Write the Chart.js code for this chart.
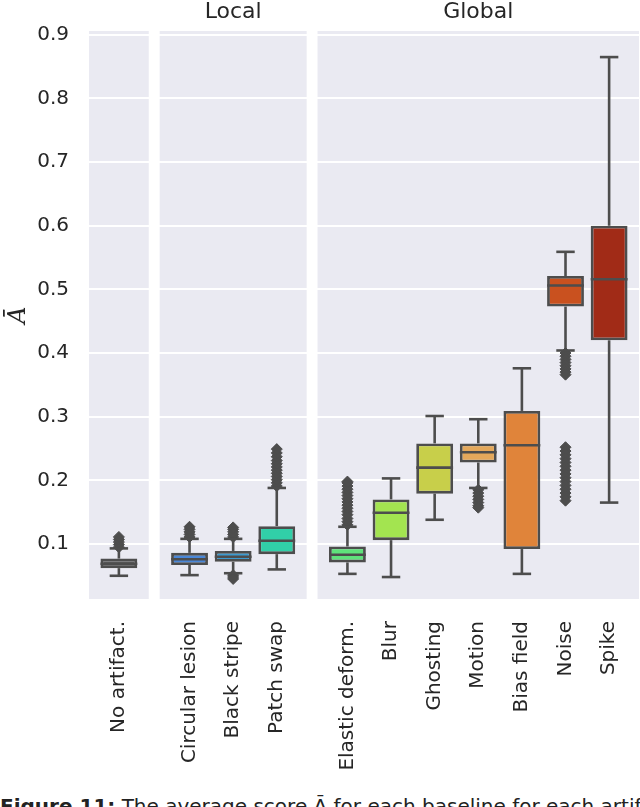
<!DOCTYPE html>
<html>
<head>
<meta charset="utf-8">
<script src="https://cdn.jsdelivr.net/npm/chart.js@4/dist/chart.umd.min.js"></script>
<style>
  html, body { margin: 0; padding: 0; background: #fff; overflow: hidden; }
  #wrap { position: relative; width: 640px; height: 807px; overflow: hidden; }
  #chart { position: absolute; left: 0; top: 0; }
  .caption {
    position: absolute; left: 0; top: 796px;
    font-family: "DejaVu Sans", sans-serif; font-size: 20px; line-height: 1;
    color: #222; white-space: nowrap;
  }
</style>
</head>
<body>
<div id="wrap">
  <canvas id="chart" width="640" height="790"></canvas>
  <div class="caption"><b>Figure 11:</b> The average score Ā for each baseline for each artifact</div>
</div>
<script>
// groups of artifacts (one panel each)
const groupTitles = ["", "Local", "Global"];
const groupLabels = [
  ["No artifact."],
  ["Circular lesion", "Black stripe", "Patch swap"],
  ["Elastic deform.", "Blur", "Ghosting", "Motion", "Bias field", "Noise", "Spike"],
];

// box stats, same order as the labels above
const whiskerLow  = [0.050, 0.051, 0.054, 0.060, 0.053, 0.048, 0.138, 0.188, 0.053, 0.404, 0.165];
const q1          = [0.062, 0.067, 0.072, 0.084, 0.071, 0.106, 0.179, 0.228, 0.092, 0.473, 0.420];
const median      = [0.069, 0.076, 0.080, 0.105, 0.083, 0.149, 0.220, 0.244, 0.255, 0.506, 0.516];
const q3          = [0.077, 0.086, 0.089, 0.128, 0.096, 0.170, 0.258, 0.258, 0.309, 0.521, 0.600];
const whiskerHigh = [0.093, 0.108, 0.108, 0.188, 0.127, 0.203, 0.301, 0.296, 0.376, 0.559, 0.865];

const outliers = [
  [0.095, 0.099, 0.103, 0.107, 0.111],
  [0.111, 0.115, 0.119, 0.123, 0.127],
  [0.111, 0.115, 0.119, 0.123, 0.126, 0.051, 0.048, 0.045],
  [0.191, 0.196, 0.201, 0.206, 0.211, 0.216, 0.221, 0.226, 0.231, 0.237, 0.243, 0.249],
  [0.130, 0.135, 0.140, 0.146, 0.151, 0.156, 0.161, 0.166, 0.171, 0.176, 0.181, 0.186, 0.191, 0.196, 0.198],
  [],
  [],
  [0.185, 0.180, 0.175, 0.170, 0.165, 0.160, 0.157],
  [],
  [0.400, 0.395, 0.390, 0.385, 0.380, 0.375, 0.370, 0.366,
   0.252, 0.246, 0.240, 0.234, 0.228, 0.222, 0.216, 0.210, 0.204, 0.198, 0.192, 0.186, 0.180, 0.174, 0.168],
  [],
];

const yTicks = [0.1, 0.2, 0.3, 0.4, 0.5, 0.6, 0.7, 0.8, 0.9];

const boxColors = ["#5c5c5c", "#4a87d8", "#3d9ad0", "#31cfa8", "#5fe27b", "#a3e450",
                   "#c8cf4a", "#e4a85b", "#e0843a", "#c9511f", "#a12b17"];
const LINE = "#4d4d4d";
const PANEL_BG = "#eaeaf2";
const TEXT = "#262626";

// x layout: each panel pads its categories, small gap between panels
const PAD = 0.685, GAP = 0.25;
const positions = [];
const panelBounds = [];
let cursor = -PAD;
groupLabels.forEach(g => {
  const start = cursor;
  g.forEach((_, i) => positions.push(start + PAD + i));
  const end = start + 2 * PAD + g.length - 1;
  panelBounds.push([start, end]);
  cursor = end + GAP;
});
const allLabels = groupLabels.flat();

const outlierPoints = [];
outliers.forEach((list, i) => list.forEach(v => outlierPoints.push({ x: positions[i], y: v })));

const panelPlugin = {
  id: "panels",
  beforeDraw(chart) {
    const { ctx, chartArea, scales: { x } } = chart;
    ctx.save();
    ctx.fillStyle = PANEL_BG;
    panelBounds.forEach(([a, b]) => {
      const l = x.getPixelForValue(a), r = x.getPixelForValue(b);
      ctx.fillRect(l, chartArea.top, r - l, chartArea.bottom - chartArea.top);
    });
    ctx.restore();
  },
  afterDraw(chart) {
    const { ctx, scales: { x } } = chart;
    ctx.save();
    ctx.fillStyle = TEXT;
    ctx.font = "22px 'DejaVu Sans'";
    ctx.textAlign = "center";
    ctx.textBaseline = "middle";
    panelBounds.forEach(([a, b], i) => {
      if (!groupTitles[i]) return;
      ctx.fillText(groupTitles[i], (x.getPixelForValue(a) + x.getPixelForValue(b)) / 2, 12);
    });
    ctx.restore();
  }
};

const boxPlugin = {
  id: "boxes",
  afterDatasetsDraw(chart) {
    const { ctx, scales: { y } } = chart;
    const meta = chart.getDatasetMeta(0);
    ctx.save();
    ctx.strokeStyle = LINE;
    ctx.lineWidth = 2.6;
    const seg = (x1, y1, x2, y2) => { ctx.beginPath(); ctx.moveTo(x1, y1); ctx.lineTo(x2, y2); ctx.stroke(); };
    meta.data.forEach((bar, i) => {
      const half = bar.width / 2, cap = bar.width / 4;
      const lo = y.getPixelForValue(whiskerLow[i]);
      const hi = y.getPixelForValue(whiskerHigh[i]);
      seg(bar.x, y.getPixelForValue(q1[i]), bar.x, lo);
      seg(bar.x, y.getPixelForValue(q3[i]), bar.x, hi);
      seg(bar.x - cap, lo, bar.x + cap, lo);
      seg(bar.x - cap, hi, bar.x + cap, hi);
      const m = y.getPixelForValue(median[i]);
      seg(bar.x - half, m, bar.x + half, m);
    });
    ctx.restore();
  }
};

new Chart(document.getElementById("chart"), {
  type: "bar",
  data: {
    datasets: [
      {
        type: "bar",
        data: positions.map((x, i) => ({ x, y: [q1[i], q3[i]] })),
        backgroundColor: boxColors,
        borderColor: LINE,
        borderWidth: 2.8,
        borderSkipped: false,
        categoryPercentage: 1,
        barPercentage: 0.845,
      },
      {
        type: "scatter",
        data: outlierPoints,
        pointStyle: "rectRot",
        radius: 5.5,
        backgroundColor: LINE,
        borderColor: LINE,
        borderWidth: 1,
      },
    ],
  },
  options: {
    responsive: false,
    animation: false,
    layout: { autoPadding: false, padding: { top: 31, right: 1, left: 0, bottom: 0 } },
    plugins: { legend: { display: false }, tooltip: { enabled: false } },
    scales: {
      x: {
        type: "linear",
        offset: false,
        min: panelBounds[0][0],
        max: panelBounds[panelBounds.length - 1][1],
        grid: { display: false },
        border: { display: false },
        afterBuildTicks: axis => { axis.ticks = positions.map(v => ({ value: v })); },
        afterFit: axis => { axis.height = 191; axis.paddingLeft = 0; axis.paddingRight = 0; },
        ticks: {
          autoSkip: false,
          minRotation: 90,
          maxRotation: 90,
          padding: 14,
          color: TEXT,
          font: { family: "DejaVu Sans", size: 20 },
          callback: (v, i) => allLabels[i],
        },
      },
      y: {
        min: 0.0135,
        max: 0.906,
        beginAtZero: false,
        grid: { color: "#ffffff", lineWidth: 2, drawTicks: false },
        border: { display: false },
        afterBuildTicks: axis => { axis.ticks = yTicks.map(v => ({ value: v })); },
        afterFit: axis => { axis.width = 89; axis.paddingTop = 0; axis.paddingBottom = 0; },
        title: {
          display: true,
          text: "Ā",
          color: TEXT,
          font: { family: "DejaVu Serif", style: "italic", size: 24 },
          padding: { top: 4, bottom: 0 },
        },
        ticks: {
          padding: 20,
          color: TEXT,
          font: { family: "DejaVu Sans", size: 20 },
          callback: v => v.toFixed(1),
        },
      },
    },
  },
  plugins: [panelPlugin, boxPlugin],
});
</script>
</body>
</html>
